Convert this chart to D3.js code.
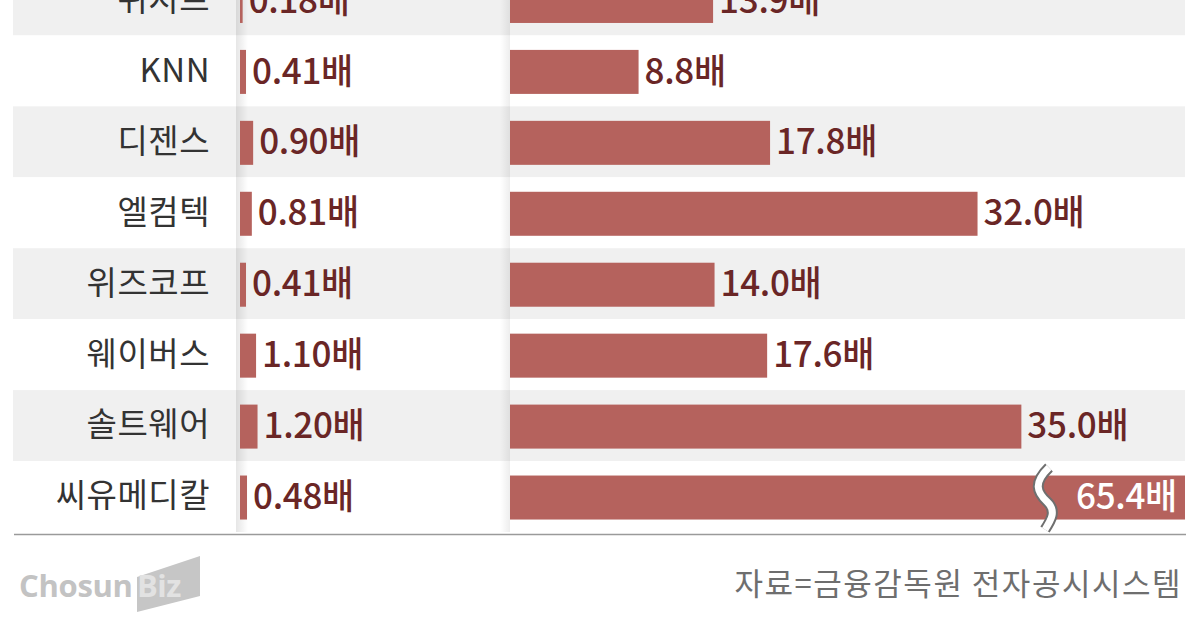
<!DOCTYPE html>
<html>
<head>
<meta charset="utf-8">
<script src="https://cdn.jsdelivr.net/npm/d3@7"></script>
<style>
  html, body { margin: 0; padding: 0; background: #fff; }
  svg { display: block; }
</style>
</head>
<body>
<svg id="chart" width="1200" height="630"></svg>
<script>
// Data (top row is cut off in the source image)
const companies = ["위지트", "KNN", "디젠스", "엘컴텍", "위즈코프", "웨이버스", "솔트웨어", "씨유메디칼"];
const pbrValues = [0.18, 0.41, 0.90, 0.81, 0.41, 1.10, 1.20, 0.48];
const perValues = [13.9, 8.8, 17.8, 32.0, 14.0, 17.6, 35.0, 65.4];
const sourceText = "자료=금융감독원 전자공시시스템";

const barColor = "#b5625d";
const valueColor = "#6a2626";
const labelFont = "'Noto Sans CJK KR', 'Noto Sans', sans-serif";

const svg = d3.select("#chart");

// rows
const y = d3.scaleBand()
  .domain(companies)
  .range([-35.5, 532])
  .padding(0);
const barH = 44;
const barY = (name) => y(name) + (y.step() - barH) / 2 + 1;

// same px-per-unit on both panels, right one clamps (broken bar)
const xL = d3.scaleLinear().domain([0, 46.2]).range([240, 915]);
const xR = d3.scaleLinear().domain([0, 46.2]).range([510, 1185]).clamp(true);
const maxShown = xR.domain()[1];

const defs = svg.append("defs");
const shadeL = defs.append("linearGradient").attr("id", "shadeL");
shadeL.append("stop").attr("offset", "0%").attr("stop-color", "#000").attr("stop-opacity", 0.10);
shadeL.append("stop").attr("offset", "100%").attr("stop-color", "#000").attr("stop-opacity", 0);
const shadeR = defs.append("linearGradient").attr("id", "shadeR");
shadeR.append("stop").attr("offset", "0%").attr("stop-color", "#000").attr("stop-opacity", 0);
shadeR.append("stop").attr("offset", "100%").attr("stop-color", "#000").attr("stop-opacity", 0.07);

// zebra stripes
svg.append("g")
  .selectAll("rect")
  .data(companies)
  .join("rect")
  .attr("x", 13)
  .attr("y", (d) => y(d))
  .attr("width", 1172)
  .attr("height", y.step())
  .attr("fill", (d, i) => (i % 2 === 0 ? "#f0f0f0" : "#ffffff"));

// soft panel edges
svg.append("rect")
  .attr("x", 236).attr("y", 0).attr("width", 12).attr("height", 532)
  .attr("fill", "url(#shadeL)");
svg.append("rect")
  .attr("x", 500).attr("y", 0).attr("width", 10).attr("height", 532)
  .attr("fill", "url(#shadeR)");

// company labels
svg.append("g")
  .selectAll("text")
  .data(companies)
  .join("text")
  .attr("x", 210)
  .attr("y", (d) => y(d) + y.step() / 2)
  .attr("dy", "0.33em")
  .attr("text-anchor", "end")
  .attr("font-family", labelFont)
  .attr("font-size", 33)
  .attr("letter-spacing", 0.5)
  .attr("fill", "#333")
  .text((d) => d);

const rows = companies.map((c, i) => ({ name: c, pbr: pbrValues[i], per: perValues[i] }));

// left panel bars
const left = svg.append("g");
left.selectAll("rect")
  .data(rows)
  .join("rect")
  .attr("x", xL(0))
  .attr("y", (d) => barY(d.name))
  .attr("width", (d) => Math.max(2, xL(d.pbr) - xL(0)))
  .attr("height", barH)
  .attr("fill", barColor);

left.selectAll("text")
  .data(rows)
  .join("text")
  .attr("x", (d) => Math.max(xL(0) + 2, xL(d.pbr)) + 6)
  .attr("y", (d) => y(d.name) + y.step() / 2)
  .attr("dy", "0.36em")
  .attr("font-family", labelFont)
  .attr("font-weight", 500)
  .attr("font-size", 35)
  .attr("letter-spacing", -0.3)
  .attr("fill", valueColor)
  .text((d) => d.pbr.toFixed(2) + "배");

// right panel bars
const right = svg.append("g");
right.selectAll("rect")
  .data(rows)
  .join("rect")
  .attr("x", xR(0))
  .attr("y", (d) => barY(d.name))
  .attr("width", (d) => xR(d.per) - xR(0))
  .attr("height", barH)
  .attr("fill", barColor);

right.selectAll("text")
  .data(rows)
  .join("text")
  .attr("x", (d) => (d.per > maxShown ? xR(d.per) - 8 : xR(d.per) + 6))
  .attr("y", (d) => y(d.name) + y.step() / 2)
  .attr("dy", "0.36em")
  .attr("text-anchor", (d) => (d.per > maxShown ? "end" : "start"))
  .attr("font-family", labelFont)
  .attr("font-weight", 500)
  .attr("font-size", 35)
  .attr("letter-spacing", -0.3)
  .attr("fill", (d) => (d.per > maxShown ? "#fff" : valueColor))
  .text((d) => d.per.toFixed(1) + "배");

// break mark on bars longer than the axis
const wave = (x0, y0, h) => {
  const p = d3.path();
  p.moveTo(x0 + 8, y0);
  p.bezierCurveTo(x0 - 8, y0 + h * 0.25, x0 - 4, y0 + h * 0.4, x0 + 6, y0 + h * 0.55);
  p.bezierCurveTo(x0 + 16, y0 + h * 0.7, x0 + 10, y0 + h * 0.85, x0 + 4, y0 + h);
  return p.toString();
};
rows.filter((d) => d.per > maxShown).forEach((d) => {
  const bx = xR(maxShown) - 144;
  const by = barY(d.name) - 8;
  const g = svg.append("g");
  g.append("path").attr("d", wave(bx, by, barH + 18))
    .attr("fill", "none").attr("stroke", "#6f6f6f").attr("stroke-width", 11);
  g.append("path").attr("d", wave(bx, by, barH + 18))
    .attr("fill", "none").attr("stroke", "#fff").attr("stroke-width", 7);
});

// bottom rule
svg.append("line")
  .attr("x1", 14).attr("x2", 1186)
  .attr("y1", 534.5).attr("y2", 534.5)
  .attr("stroke", "#9a9a9a").attr("stroke-width", 1.5);

// logo
const logo = svg.append("g");
logo.append("path")
  .attr("d", "M137,577 L200,556 L200,596 L137,612 Z")
  .attr("fill", "#c6c6c6");
logo.append("text")
  .attr("x", 19).attr("y", 597)
  .attr("font-family", "'Open Sans', 'Noto Sans', sans-serif")
  .attr("font-weight", 700)
  .attr("font-size", 31)
  .attr("letter-spacing", -0.3)
  .attr("fill", "#c3c3c3")
  .text("Chosun");
logo.append("text")
  .attr("x", 137).attr("y", 597)
  .attr("font-family", "'Open Sans', 'Noto Sans', sans-serif")
  .attr("font-weight", 700)
  .attr("font-size", 31)
  .attr("letter-spacing", -0.5)
  .attr("fill", "#e2e2e2")
  .text("Biz");

// source
svg.append("text")
  .attr("x", 1182).attr("y", 584)
  .attr("dy", "0.36em")
  .attr("text-anchor", "end")
  .attr("font-family", labelFont)
  .attr("font-size", 31)
  .attr("letter-spacing", 1.5)
  .attr("fill", "#6e6e6e")
  .text(sourceText);
</script>
</body>
</html>
